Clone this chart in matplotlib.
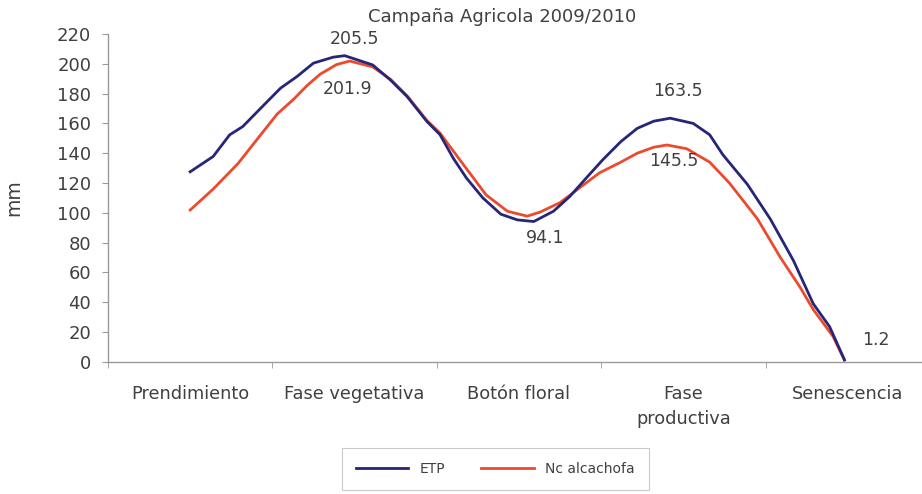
import matplotlib
matplotlib.use("Agg")
import matplotlib.pyplot as plt
import numpy as np

plt.rcParams["font.family"] = ["DejaVu Sans"]

TITLE = "Campaña Agricola 2009/2010"
PHASES = ["Prendimiento", "Fase vegetativa", "Botón floral", "Fase\nproductiva", "Senescencia"]

# posición a lo largo de la campaña, en unidades de fase (0 = Prendimiento ... 4 = Senescencia)
ETP_X = [0.00, 0.14, 0.24, 0.32, 0.43, 0.55, 0.65, 0.75, 0.87, 0.94,
         1.11, 1.22, 1.32, 1.44, 1.52, 1.60, 1.68, 1.78, 1.89, 1.99,
         2.09, 2.21, 2.31, 2.41, 2.51, 2.62, 2.72, 2.82, 2.92, 3.06,
         3.16, 3.24, 3.39, 3.53, 3.67, 3.79, 3.89, 3.98]
ETP_MM = [127.5, 137.8, 152.3, 157.9, 170.3, 183.7, 191.5, 200.5, 204.5, 205.5,
          199.3, 189.0, 178.0, 161.3, 152.4, 136.7, 123.4, 110.0, 99.0, 95.2,
          94.1, 101.0, 111.0, 123.4, 135.6, 147.8, 156.7, 161.5, 163.5, 160.0,
          152.4, 139.0, 119.0, 95.6, 67.8, 38.9, 23.4, 1.2]

NC_X = [0.00, 0.14, 0.29, 0.41, 0.53, 0.63, 0.71, 0.79, 0.89, 0.97,
        1.11, 1.22, 1.32, 1.44, 1.52, 1.64, 1.80, 1.93, 2.05, 2.13,
        2.25, 2.37, 2.49, 2.62, 2.72, 2.82, 2.90, 3.02, 3.16, 3.28,
        3.45, 3.59, 3.71, 3.79, 3.91, 3.98]
NC_MM = [101.8, 115.9, 132.9, 149.7, 166.4, 176.3, 185.3, 193.0, 199.5, 201.9,
         198.0, 189.5, 178.5, 162.0, 153.5, 135.6, 112.0, 101.0, 97.7, 100.5,
         106.8, 116.8, 126.8, 134.0, 140.0, 144.0, 145.5, 143.0, 134.0, 120.0,
         96.0, 70.0, 50.0, 35.0, 17.0, 1.0]

# etiquetas de valor: (x, y, texto) en unidades de datos
LABELS = [
    (1.00, 217.0, "205.5"),
    (0.96, 183.0, "201.9"),
    (2.16, 83.0, "94.1"),
    (2.97, 182.0, "163.5"),
    (2.94, 135.0, "145.5"),
    (4.17, 14.5, "1.2"),
]

ETP_COLOR = "#25257a"
NC_COLOR = "#ec4a2c"
TEXT_COLOR = "#404040"
AXIS_COLOR = "#9a9a9a"

fig = plt.figure(figsize=(9.22, 4.94), dpi=100)
ax = fig.add_axes([0.1171, 0.268, 0.8915, 0.663])

ax.plot(ETP_X, ETP_MM, color=ETP_COLOR, lw=2.0, label="ETP", zorder=3,
        solid_joinstyle="round")
ax.plot(NC_X, NC_MM, color=NC_COLOR, lw=2.0, label="Nc alcachofa", zorder=2,
        solid_joinstyle="round")

for x, y, text in LABELS:
    ax.text(x, y, text, ha="center", va="center", fontsize=12.5, color=TEXT_COLOR)

ax.set_xlim(-0.5, 4.5)
ax.set_ylim(0, 220)
ax.set_yticks(np.arange(0, 221, 20))
ax.set_xticks(range(len(PHASES)))
ax.set_xticklabels(PHASES, linespacing=1.5, va="top")
ax.set_xticks(np.arange(-0.5, 4.6, 1.0), minor=True)

for side in ("top", "right"):
    ax.spines[side].set_visible(False)
for side in ("left", "bottom"):
    ax.spines[side].set_color(AXIS_COLOR)
    ax.spines[side].set_linewidth(1.0)

ax.tick_params(axis="y", length=4, color=AXIS_COLOR, labelsize=13,
               labelcolor=TEXT_COLOR, pad=8)
ax.tick_params(axis="x", which="major", length=0, labelsize=12.8,
               labelcolor=TEXT_COLOR, pad=17)
ax.tick_params(axis="x", which="minor", length=4, color=AXIS_COLOR)

ax.set_ylabel("mm", fontsize=13.5, color=TEXT_COLOR, labelpad=24)
fig.text(0.545, 0.965, TITLE, ha="center", va="center", fontsize=13, color=TEXT_COLOR)

leg = fig.legend(loc="center", bbox_to_anchor=(0.537, 0.051), ncol=2, fontsize=10,
                 frameon=True, fancybox=False, edgecolor="#bdbdbd",
                 handlelength=3.8, columnspacing=2.6, borderpad=1.0)
for t in leg.get_texts():
    t.set_color(TEXT_COLOR)
leg.get_frame().set_linewidth(0.8)

fig.savefig("out.png", dpi=100)
